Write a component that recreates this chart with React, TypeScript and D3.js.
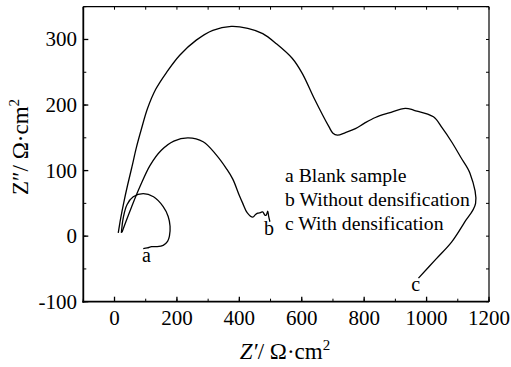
import React from "react";
import * as d3 from "d3";

// ---- data (Z' , Z'') in Ω·cm² ----
const curveA: [number, number][] = [
  [22, 5], [28, 28], [40, 48], [60, 60], [92, 65], [125, 60], [156, 45],
  [172, 30], [178, 15], [176, 0], [170, -8], [156, -14], [135, -16],
  [119, -16], [105, -18], [92, -19],
];
const curveB: [number, number][] = [
  [24, 6], [34, 19], [55, 45], [82, 76], [114, 108], [150, 131], [190, 145],
  [236, 150], [284, 144], [326, 124], [360, 102], [379, 87],
  [400, 62], [411, 50], [425, 36], [443, 29], [452, 33], [459, 35],
  [468, 36], [475, 37], [482, 32], [486, 32], [491, 38], [494, 30], [498, 22],
];
const curveC: [number, number][] = [
  [12, 5], [20, 28], [30, 52], [42, 78], [56, 106], [70, 135], [86, 163],
  [106, 195], [132, 224], [167, 250], [209, 276], [262, 299], [315, 314],
  [374, 320], [427, 317], [475, 309], [520, 293], [570, 271], [602, 248],
  [640, 210], [687, 167], [700, 157], [714, 154], [740, 158], [772, 164],
  [800, 172], [836, 181], [880, 188], [932, 195], [960, 192], [1022, 182],
  [1050, 165], [1080, 144], [1110, 120], [1139, 96], [1157, 50],
  [1120, 20], [1080, -9], [1030, -35], [974, -64],
];
const curveLabels = [
  { text: "a", x: 102, y: -40 },
  { text: "b", x: 495, y: 2 },
  { text: "c", x: 965, y: -84 },
];
const legendItems = ["a Blank sample", "b Without densification", "c With densification"];
const xTicks = [0, 200, 400, 600, 800, 1000, 1200];
const yTicks = [-100, 0, 100, 200, 300];

const W = 511, H = 367;
const M = { left: 83.3, right: 489, top: 6.7, bottom: 301.7 };
const FONT = "Liberation Serif, Times New Roman, serif";

export default function App() {
  const x = d3.scaleLinear().domain([-100, 1200]).range([M.left, M.right]);
  const y = d3.scaleLinear().domain([-100, 350]).range([M.bottom, M.top]);
  const line = d3
    .line<[number, number]>()
    .x((d) => x(d[0]))
    .y((d) => y(d[1]))
    .curve(d3.curveCatmullRom.alpha(0.5));

  const xMinor = d3.range(-100, 1201, 100);
  const yMinor = d3.range(-100, 351, 50);
  const ts = { fontFamily: FONT };

  return (
    <svg width={W} height={H} style={{ position: "absolute", left: 0, top: 0 }}>
      <rect width={W} height={H} fill="#fff" />
      <line x1={M.left} x2={M.right} y1={M.top} y2={M.top} stroke="#000" strokeWidth={1.2} />
      <line x1={M.right} x2={M.right} y1={M.top} y2={M.bottom} stroke="#000" strokeWidth={1.2} />
      <line x1={M.left} x2={M.left} y1={M.top} y2={M.bottom + 1} stroke="#000" strokeWidth={1.8} />
      <line x1={M.left - 1} x2={M.right} y1={M.bottom} y2={M.bottom} stroke="#000" strokeWidth={1.8} />
      {xMinor.map((v) => (
        <g key={"xm" + v}>
          <line x1={x(v)} x2={x(v)} y1={M.top} y2={M.top + 3} stroke="#000" strokeWidth={1} />
          <line x1={x(v)} x2={x(v)} y1={M.bottom} y2={M.bottom - 3} stroke="#000" strokeWidth={1} />
        </g>
      ))}
      {xTicks.map((v) => (
        <g key={"xt" + v}>
          <line x1={x(v)} x2={x(v)} y1={M.bottom} y2={M.bottom - 5} stroke="#000" strokeWidth={1.3} />
          <text x={x(v)} y={325} textAnchor="middle" style={ts} fontSize={21}>{v}</text>
        </g>
      ))}
      {yMinor.map((v) => (
        <g key={"ym" + v}>
          <line x1={M.left} x2={M.left + 3} y1={y(v)} y2={y(v)} stroke="#000" strokeWidth={1} />
          <line x1={M.right} x2={M.right - 3} y1={y(v)} y2={y(v)} stroke="#000" strokeWidth={1} />
        </g>
      ))}
      {yTicks.map((v) => (
        <g key={"yt" + v}>
          <line x1={M.left} x2={M.left + 5} y1={y(v)} y2={y(v)} stroke="#000" strokeWidth={1.3} />
          <text x={77} y={y(v) + 7} textAnchor="end" style={ts} fontSize={21}>{v}</text>
        </g>
      ))}
      {[curveA, curveB, curveC].map((c, i) => (
        <path key={i} d={line(c) || ""} fill="none" stroke="#000" strokeWidth={1.3} strokeLinejoin="round" />
      ))}
      {curveLabels.map((l) => (
        <text key={l.text} x={x(l.x)} y={y(l.y)} textAnchor="middle" style={ts} fontSize={20}>{l.text}</text>
      ))}
      {legendItems.map((t, i) => (
        <text key={t} x={285} y={182 + i * 24} style={ts} fontSize={19.7}>{t}</text>
      ))}
      <text x={285} y={359} textAnchor="middle" style={ts} fontSize={23}>
        <tspan fontStyle="italic">Z′</tspan>/ Ω·cm<tspan dy={-9} fontSize={15}>2</tspan>
      </text>
      <text transform="translate(28,147) rotate(-90)" textAnchor="middle" style={ts} fontSize={23}>
        Z″/ Ω·cm<tspan dy={-9} fontSize={15}>2</tspan>
      </text>
    </svg>
  );
}
